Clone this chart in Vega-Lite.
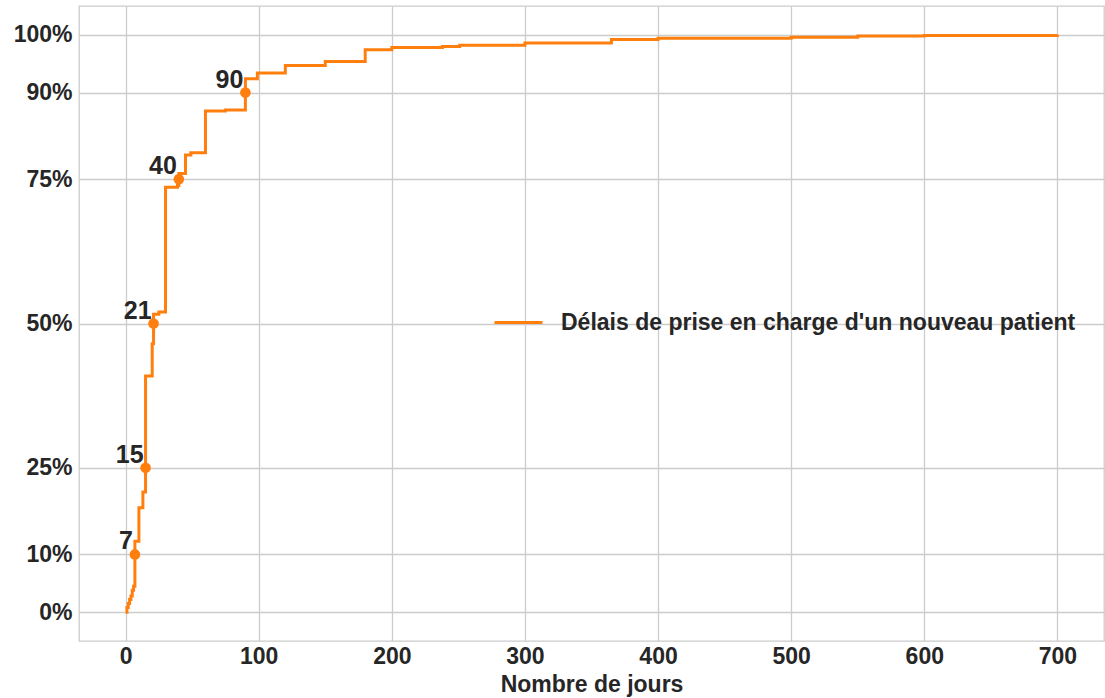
{
  "$schema": "https://vega.github.io/schema/vega-lite/v6.json",
  "width": 1025,
  "height": 635,
  "autosize": {"type": "none"},
  "padding": {"left": 79, "top": 6, "right": 1, "bottom": 57},
  "background": "white",
  "config": {
    "font": "Liberation Sans",
    "view": {"stroke": "#cccccc", "strokeWidth": 1.3},
    "axis": {
      "domain": false,
      "ticks": false,
      "grid": true,
      "gridColor": "#cccccc",
      "gridWidth": 1.3,
      "labelFont": "Liberation Sans",
      "labelFontWeight": "bold",
      "labelFontSize": 23,
      "labelColor": "#262626",
      "titleFont": "Liberation Sans",
      "titleFontWeight": "bold",
      "titleFontSize": 23,
      "titleColor": "#262626"
    },
    "legend": {
      "labelFont": "Liberation Sans",
      "labelFontWeight": "bold",
      "labelFontSize": 23,
      "labelColor": "#262626",
      "padding": 0
    }
  },
  "datasets": {
    "ecdf": [
      {"jours": 0, "cdf": 0.0},
      {"jours": 1, "cdf": 0.008},
      {"jours": 2, "cdf": 0.015},
      {"jours": 3, "cdf": 0.022},
      {"jours": 4, "cdf": 0.028},
      {"jours": 5, "cdf": 0.038},
      {"jours": 6, "cdf": 0.045},
      {"jours": 7, "cdf": 0.123},
      {"jours": 10, "cdf": 0.181},
      {"jours": 13, "cdf": 0.208},
      {"jours": 15, "cdf": 0.409},
      {"jours": 20, "cdf": 0.465},
      {"jours": 21, "cdf": 0.516},
      {"jours": 25, "cdf": 0.52},
      {"jours": 30, "cdf": 0.736},
      {"jours": 39, "cdf": 0.739},
      {"jours": 40, "cdf": 0.76},
      {"jours": 45, "cdf": 0.792},
      {"jours": 49, "cdf": 0.796},
      {"jours": 60, "cdf": 0.868},
      {"jours": 75, "cdf": 0.87},
      {"jours": 90, "cdf": 0.924},
      {"jours": 99, "cdf": 0.934},
      {"jours": 120, "cdf": 0.947},
      {"jours": 150, "cdf": 0.954},
      {"jours": 180, "cdf": 0.974},
      {"jours": 200, "cdf": 0.978},
      {"jours": 238, "cdf": 0.98},
      {"jours": 251, "cdf": 0.982},
      {"jours": 300, "cdf": 0.986},
      {"jours": 365, "cdf": 0.992},
      {"jours": 400, "cdf": 0.994},
      {"jours": 500, "cdf": 0.996},
      {"jours": 550, "cdf": 0.998},
      {"jours": 600, "cdf": 0.999},
      {"jours": 700, "cdf": 1.0}
    ],
    "quantiles": [
      {"jours": 7, "p": 0.10, "label": "7"},
      {"jours": 15, "p": 0.25, "label": "15"},
      {"jours": 21, "p": 0.50, "label": "21"},
      {"jours": 40, "p": 0.75, "label": "40"},
      {"jours": 90, "p": 0.90, "label": "90"}
    ]
  },
  "layer": [
    {
      "data": {"name": "ecdf"},
      "transform": [{"calculate": "'Délais de prise en charge d\\'un nouveau patient'", "as": "serie"}],
      "mark": {"type": "line", "interpolate": "step-after", "strokeWidth": 3, "clip": true},
      "encoding": {
        "x": {
          "field": "jours", "type": "quantitative",
          "scale": {"domain": [-35, 735], "nice": false, "zero": false},
          "axis": {"values": [0, 100, 200, 300, 400, 500, 600, 700], "title": "Nombre de jours", "labelPadding": 4, "titlePadding": 5}
        },
        "y": {
          "field": "cdf", "type": "quantitative",
          "scale": {"domain": [-0.05, 1.05], "nice": false, "zero": false},
          "axis": {"values": [0, 0.1, 0.25, 0.5, 0.75, 0.9, 1], "format": ".0%", "title": null, "labelPadding": 7}
        },
        "color": {
          "field": "serie", "type": "nominal",
          "scale": {"range": ["#ff7f0e"]},
          "legend": {
            "title": null,
            "orient": "none",
            "legendX": 414,
            "legendY": 291,
            "symbolType": "stroke",
            "symbolSize": 2304,
            "symbolStrokeWidth": 3,
            "labelOffset": 17,
            "labelLimit": 800
          }
        }
      }
    },
    {
      "data": {"name": "quantiles"},
      "mark": {"type": "circle", "size": 113, "color": "#ff7f0e", "opacity": 1},
      "encoding": {
        "x": {"field": "jours", "type": "quantitative"},
        "y": {"field": "p", "type": "quantitative"}
      }
    },
    {
      "data": {"name": "quantiles"},
      "mark": {"type": "text", "align": "right", "baseline": "alphabetic", "dx": -2, "dy": -5, "fontSize": 25, "fontWeight": "bold", "color": "#262626", "font": "Liberation Sans"},
      "encoding": {
        "x": {"field": "jours", "type": "quantitative"},
        "y": {"field": "p", "type": "quantitative"},
        "text": {"field": "label", "type": "nominal"}
      }
    }
  ]
}
